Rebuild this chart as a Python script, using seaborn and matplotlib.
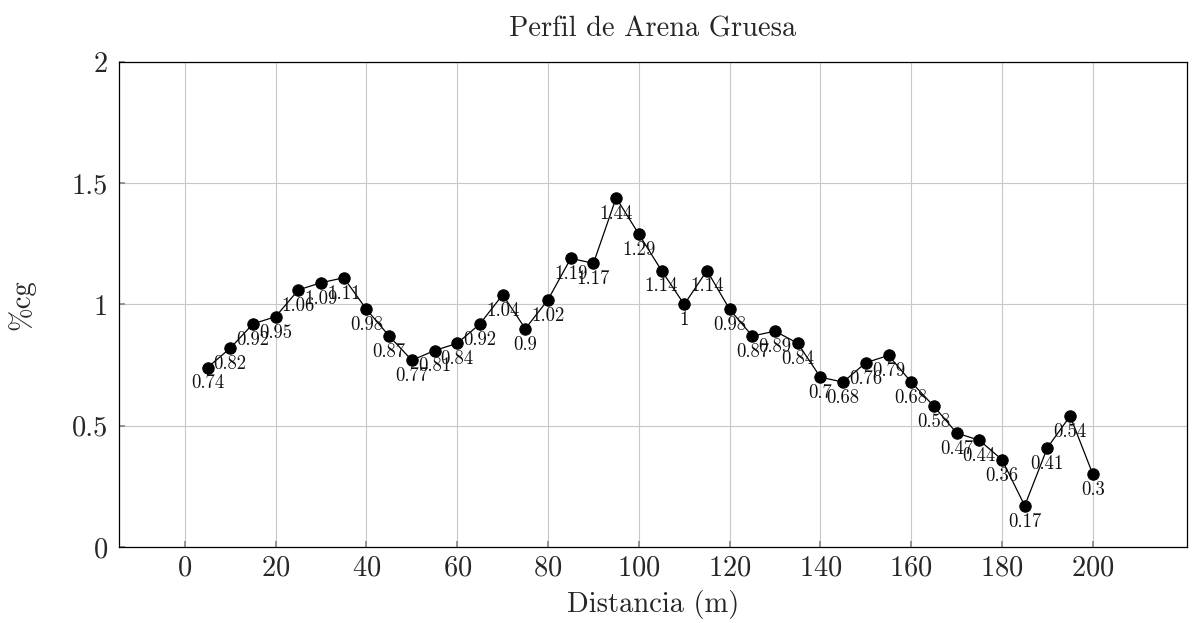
import matplotlib
matplotlib.use("Agg")
import matplotlib.pyplot as plt
from matplotlib.ticker import FuncFormatter
import seaborn as sns
import pandas as pd

# Sampling distances along the profile (m) and coarse sand content (%cg)
distancia = [5, 10, 15, 20, 25, 30, 35, 40, 45, 50,
             55, 60, 65, 70, 75, 80, 85, 90, 95, 100,
             105, 110, 115, 120, 125, 130, 135, 140, 145, 150,
             155, 160, 165, 170, 175, 180, 185, 190, 195, 200]
arena_gruesa = [0.74, 0.82, 0.92, 0.95, 1.06, 1.09, 1.11, 0.98, 0.87, 0.77,
                0.81, 0.84, 0.92, 1.04, 0.90, 1.02, 1.19, 1.17, 1.44, 1.29,
                1.14, 1.00, 1.14, 0.98, 0.87, 0.89, 0.84, 0.70, 0.68, 0.76,
                0.79, 0.68, 0.58, 0.47, 0.44, 0.36, 0.17, 0.41, 0.54, 0.30]
x_ticks = list(range(0, 201, 20))
y_ticks = [0, 0.5, 1, 1.5, 2]

df = pd.DataFrame({"Distancia": distancia, "cg": arena_gruesa})

sns.set_theme(style="white")
plt.rcParams["font.family"] = ["cmr10", "DejaVu Serif"]
plt.rcParams["mathtext.fontset"] = "cm"
plt.rcParams["axes.formatter.use_mathtext"] = True

fig = plt.figure(figsize=(12, 6.23), dpi=100)
ax = fig.add_axes([0.0992, 0.122, 0.8898, 0.7785])

sns.lineplot(data=df, x="Distancia", y="cg", ax=ax, color="black",
             linewidth=0.9, marker="o", markersize=8.2,
             markeredgecolor="black", markerfacecolor="black", zorder=3)

# Value labels below each point
for xv, yv in zip(distancia, arena_gruesa):
    ax.annotate(f"{yv:g}", (xv, yv), xytext=(0, -11.5), textcoords="offset points",
                ha="center", va="center", fontsize=13.5, color="#111111", zorder=4)

ax.set_xlim(-14.5, 220.7)
ax.set_ylim(0, 2)
ax.set_xticks(x_ticks)
ax.set_yticks(y_ticks)
ax.yaxis.set_major_formatter(FuncFormatter(lambda v, p: f"{v:g}"))
ax.grid(True, color="#c8c8c8", linewidth=0.8)
ax.set_axisbelow(True)
for s in ax.spines.values():
    s.set_color("black")
    s.set_linewidth(0.9)
ax.tick_params(axis="both", direction="in", length=4, color="#888888",
               labelsize=20.5, bottom=True, left=True)
ax.tick_params(axis="x", pad=6)
ax.tick_params(axis="y", pad=8)

ax.set_title("Perfil de Arena Gruesa", fontsize=20.5, pad=18)
ax.set_xlabel("Distancia (m)", fontsize=20.5, labelpad=6)
ax.set_ylabel("%cg", fontsize=20.5, labelpad=26)

fig.savefig("out.png", dpi=100)
